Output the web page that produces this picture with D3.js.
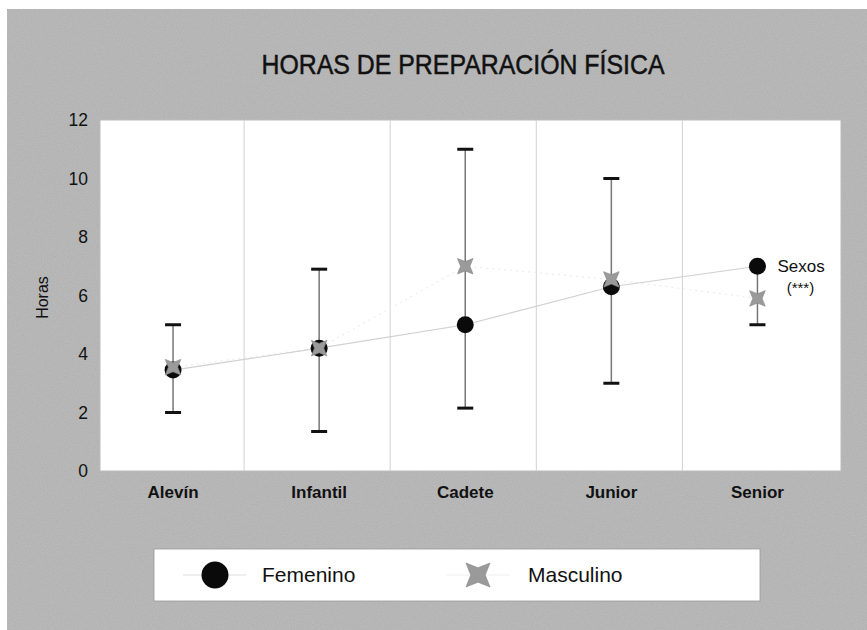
<!DOCTYPE html>
<html>
<head>
<meta charset="utf-8">
<script src="https://cdn.jsdelivr.net/npm/d3@7"></script>
<style>
  body { margin: 0; background: #fff; }
  svg text { font-family: "Liberation Sans", Arial, sans-serif; fill: #111; }
</style>
</head>
<body>
<div id="chart"></div>
<script>
// data
const categories = ["Alevín", "Infantil", "Cadete", "Junior", "Senior"];
const femenino = [3.45, 4.2, 5.0, 6.3, 7.0];
const masculino = [3.55, 4.2, 7.0, 6.55, 5.9];
const errLow = [2.0, 1.35, 2.15, 3.0, 5.0];
const errHigh = [5.0, 6.9, 11.0, 10.0, 7.0];
const yTicks = [0, 2, 4, 6, 8, 10, 12];

const W = 867, H = 630;
const plot = {left: 100, top: 120, right: 841, bottom: 471};

const svg = d3.select("#chart").append("svg")
	.attr("width", W)
	.attr("height", H);

const defs = svg.append("defs");
// grainy paper look for the grey backdrop
const grain = defs.append("filter").attr("id", "grain").attr("x", 0).attr("y", 0).attr("width", "100%").attr("height", "100%");
grain.append("feTurbulence").attr("type", "fractalNoise").attr("baseFrequency", "0.9").attr("numOctaves", 2).attr("seed", 3).attr("result", "noise");
grain.append("feColorMatrix").attr("in", "noise").attr("type", "matrix")
	.attr("values", "0 0 0 0 0  0 0 0 0 0  0 0 0 0 0  0 0 0 0.16 0").attr("result", "dark");
grain.append("feComposite").attr("in", "dark").attr("in2", "SourceGraphic").attr("operator", "in").attr("result", "d2");
const gm = grain.append("feMerge");
gm.append("feMergeNode").attr("in", "SourceGraphic");
gm.append("feMergeNode").attr("in", "d2");

// background
svg.append("rect")
	.attr("x", 7).attr("y", 9)
	.attr("width", W - 7).attr("height", H - 9)
	.attr("fill", "#bdbdbd")
	.attr("filter", "url(#grain)");

// title (condensed face squeezed to the original width)
svg.append("text")
	.attr("x", 463).attr("y", 74)
	.attr("text-anchor", "middle")
	.attr("textLength", 403)
	.attr("lengthAdjust", "spacingAndGlyphs")
	.style("font-size", "28px")
	.style("stroke", "#111").style("stroke-width", 0.5)
	.text("HORAS DE PREPARACIÓN FÍSICA");

// plot panel
svg.append("rect")
	.attr("x", plot.left).attr("y", plot.top)
	.attr("width", plot.right - plot.left).attr("height", plot.bottom - plot.top)
	.attr("fill", "#fff")
	.attr("stroke", "#bbb").attr("stroke-width", 1);

const x = d3.scaleBand()
	.domain(categories)
	.range([plot.left, 830.5]);

const y = d3.scaleLinear()
	.domain([0, 12])
	.range([plot.bottom, plot.top]);

// category separators
svg.append("g")
	.selectAll("line")
	.data(categories.slice(1))
	.join("line")
		.attr("x1", d => x(d) - 2).attr("x2", d => x(d) - 2)
		.attr("y1", plot.top).attr("y2", plot.bottom)
		.attr("stroke", "#d2d2d2").attr("stroke-width", 1);

// Y axis
const yAxis = svg.append("g")
	.attr("transform", "translate(" + (plot.left - 12) + ",0)")
	.call(d3.axisLeft(y).tickValues(yTicks).tickSize(0).tickPadding(0));
yAxis.select(".domain").remove();
yAxis.selectAll(".tick text")
	.style("font-size", "17.5px")
	.style("font-family", "'Liberation Sans', Arial, sans-serif")
	.attr("fill", "#111");

svg.append("text")
	.attr("transform", "translate(48," + ((plot.top + plot.bottom) / 2 + 2) + ") rotate(-90)")
	.attr("text-anchor", "middle")
	.style("font-size", "16px")
	.text("Horas");

// X axis
const xAxis = svg.append("g")
	.attr("transform", "translate(0," + plot.bottom + ")")
	.call(d3.axisBottom(x).tickSize(0).tickPadding(15));
xAxis.select(".domain").remove();
xAxis.selectAll(".tick text")
	.style("font-size", "17px")
	.style("font-weight", "bold")
	.style("font-family", "'Liberation Sans', Arial, sans-serif")
	.attr("fill", "#111");

const cx = d => x(d) + x.bandwidth() / 2;

// connecting lines
const lineF = d3.line().x((d, i) => cx(categories[i])).y(d => y(d));
svg.append("path")
	.datum(masculino)
	.attr("d", lineF)
	.attr("fill", "none")
	.attr("stroke", "#ececec").attr("stroke-width", 1.2)
	.attr("stroke-dasharray", "2,4");
svg.append("path")
	.datum(femenino)
	.attr("d", lineF)
	.attr("fill", "none")
	.attr("stroke", "#d0d0d0").attr("stroke-width", 1.1);

// error bars
const eb = svg.append("g")
	.selectAll("g")
	.data(categories)
	.join("g");
eb.append("line")
	.attr("x1", d => cx(d)).attr("x2", d => cx(d))
	.attr("y1", (d, i) => y(errLow[i])).attr("y2", (d, i) => y(errHigh[i]))
	.attr("stroke", "#777").attr("stroke-width", 1.5);
eb.append("line")
	.attr("x1", d => cx(d) - 8).attr("x2", d => cx(d) + 8)
	.attr("y1", (d, i) => y(errLow[i])).attr("y2", (d, i) => y(errLow[i]))
	.attr("stroke", "#111").attr("stroke-width", 3);
eb.append("line")
	.attr("x1", d => cx(d) - 8).attr("x2", d => cx(d) + 8)
	.attr("y1", (d, i) => y(errHigh[i])).attr("y2", (d, i) => y(errHigh[i]))
	.attr("stroke", "#111").attr("stroke-width", 3);

// 4 point star
function starPath(r) {
	const s = r * 0.3;
	return "M0," + (-r) + "L" + s + "," + (-s) + "L" + r + ",0L" + s + "," + s +
		"L0," + r + "L" + (-s) + "," + s + "L" + (-r) + ",0L" + (-s) + "," + (-s) + "Z";
}
const starCol = "#9a9a9a";

svg.append("g")
	.selectAll("circle")
	.data(femenino)
	.join("circle")
		.attr("cx", (d, i) => cx(categories[i]))
		.attr("cy", d => y(d))
		.attr("r", 8.5)
		.attr("fill", "#0a0a0a");

svg.append("g")
	.selectAll("path")
	.data(masculino)
	.join("path")
		.attr("transform", (d, i) => "translate(" + cx(categories[i]) + "," + y(d) + ") rotate(45)")
		.attr("d", starPath(11))
		.attr("fill", starCol)
		.attr("stroke", "#888").attr("stroke-width", 0.6);

// significance note
const last = categories[categories.length - 1];
svg.append("text")
	.attr("x", cx(last) + 20).attr("y", y(femenino[4]) + 6)
	.style("font-size", "17px")
	.text("Sexos");
svg.append("text")
	.attr("x", cx(last) + 43).attr("y", y(femenino[4]) + 27)
	.attr("text-anchor", "middle")
	.style("font-size", "15px")
	.text("(***)");

// legend
const lg = svg.append("g");
lg.append("rect")
	.attr("x", 154).attr("y", 549)
	.attr("width", 606).attr("height", 52)
	.attr("fill", "#fff")
	.attr("stroke", "#999").attr("stroke-width", 0.8);
lg.append("line")
	.attr("x1", 183).attr("x2", 246).attr("y1", 575).attr("y2", 575)
	.attr("stroke", "#ddd").attr("stroke-width", 1.2);
lg.append("circle")
	.attr("cx", 215).attr("cy", 575).attr("r", 13.5)
	.attr("fill", "#0a0a0a");
lg.append("text")
	.attr("x", 262).attr("y", 582)
	.style("font-size", "21px")
	.text("Femenino");
lg.append("line")
	.attr("x1", 446).attr("x2", 510).attr("y1", 575).attr("y2", 575)
	.attr("stroke", "#f0f0f0").attr("stroke-width", 1.2);
lg.append("path")
	.attr("transform", "translate(478,575) rotate(45)")
	.attr("d", starPath(17))
	.attr("fill", starCol)
	.attr("stroke", "#888").attr("stroke-width", 0.6);
lg.append("text")
	.attr("x", 528).attr("y", 582)
	.style("font-size", "21px")
	.text("Masculino");
</script>
</body>
</html>
